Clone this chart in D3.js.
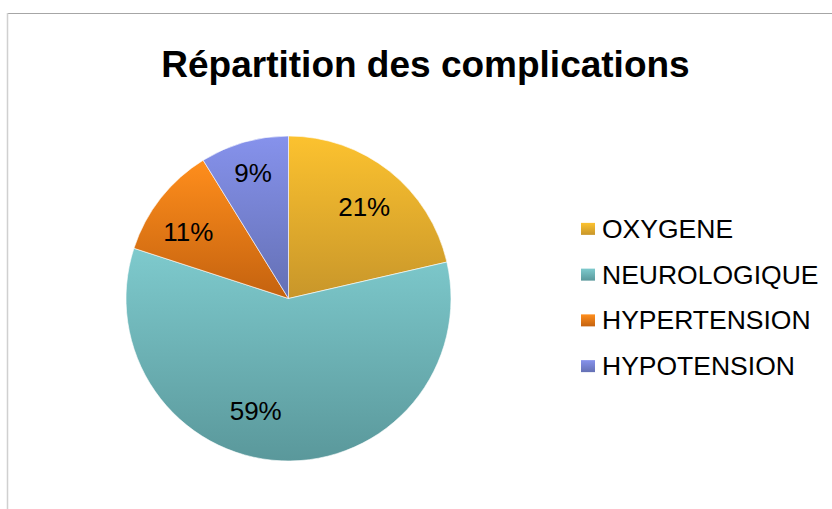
<!DOCTYPE html>
<html>
<head>
<meta charset="utf-8">
<script src="https://cdn.jsdelivr.net/npm/d3@7/dist/d3.min.js"></script>
<style>
html,body{margin:0;padding:0;background:#fff;}
svg{display:block;font-family:"Liberation Sans",Arial,sans-serif;}
</style>
</head>
<body>
<svg id="chart" width="832" height="509"></svg>
<script>
const title = "Répartition des complications";
const categories = ["OXYGENE", "NEUROLOGIQUE", "HYPERTENSION", "HYPOTENSION"];
const values = [21.4, 58.6, 11.2, 8.8];
const colorsTop = ["#fcc22f", "#7ecacd", "#ff8e1c", "#8692ec"];
const colorsBottom = ["#c8962a", "#5a989b", "#c4620f", "#6470b4"];

const svg = d3.select("#chart");
const W = 832, H = 509;

// frame
svg.append("line").attr("x1", 7).attr("x2", W).attr("y1", 13.5).attr("y2", 13.5)
  .attr("stroke", "#a6a6a6").attr("stroke-width", 1);
svg.append("line").attr("x1", 7.5).attr("x2", 7.5).attr("y1", 13).attr("y2", H)
  .attr("stroke", "#d0d0d0").attr("stroke-width", 1.5);

// title
svg.append("text").attr("x", 425.5).attr("y", 77)
  .attr("text-anchor", "middle").attr("font-size", 37).attr("font-weight", "bold")
  .attr("fill", "#000").text(title);

const defs = svg.append("defs");
categories.forEach((c, i) => {
  const g = defs.append("linearGradient").attr("id", "grad" + i)
    .attr("x1", 0).attr("y1", 0).attr("x2", 0).attr("y2", 1);
  g.append("stop").attr("offset", "0%").attr("stop-color", colorsTop[i]);
  g.append("stop").attr("offset", "100%").attr("stop-color", colorsBottom[i]);
});

const cx = 288.5, cy = 298.5, R = 162.5;
const total = d3.sum(values);
const pie = d3.pie().sort(null).value(d => d)(values);
const arc = d3.arc().innerRadius(0).outerRadius(R);

const g = svg.append("g").attr("transform", `translate(${cx},${cy})`);
g.selectAll("path").data(pie).join("path")
  .attr("d", arc)
  .attr("fill", (d, i) => `url(#grad${i})`)
  .attr("stroke", "#ffffff").attr("stroke-width", 0.6);

// labels (Excel-like best-fit placement)
const labelRadius = [0.73, 0.72, 0.74, 0.80];
const labelAngleShift = [0.02, 0.24, -0.08, 0];
g.selectAll("text.lbl").data(pie).join("text").attr("class", "lbl")
  .each(function(d, i) {
    const a = (d.startAngle + d.endAngle) / 2 + labelAngleShift[i];
    const r = R * labelRadius[i];
    d3.select(this).attr("x", r * Math.sin(a)).attr("y", -r * Math.cos(a));
  })
  .attr("text-anchor", "middle").attr("dominant-baseline", "central")
  .attr("font-size", 26).attr("fill", "#000")
  .text(d => Math.round(d.value / total * 100) + "%");

// legend
const legend = svg.append("g").attr("transform", "translate(581,0)");
const ly = d3.scaleBand().domain(categories).range([206, 389]);
categories.forEach((c, i) => {
  const yc = ly(c) + ly.bandwidth() / 2;
  legend.append("rect").attr("x", 0).attr("y", yc - 6).attr("width", 14).attr("height", 12)
    .attr("fill", `url(#grad${i})`);
  legend.append("text").attr("x", 21).attr("y", yc + 9)
    .attr("font-size", 26.5).attr("fill", "#000").text(c);
});
</script>
</body>
</html>
